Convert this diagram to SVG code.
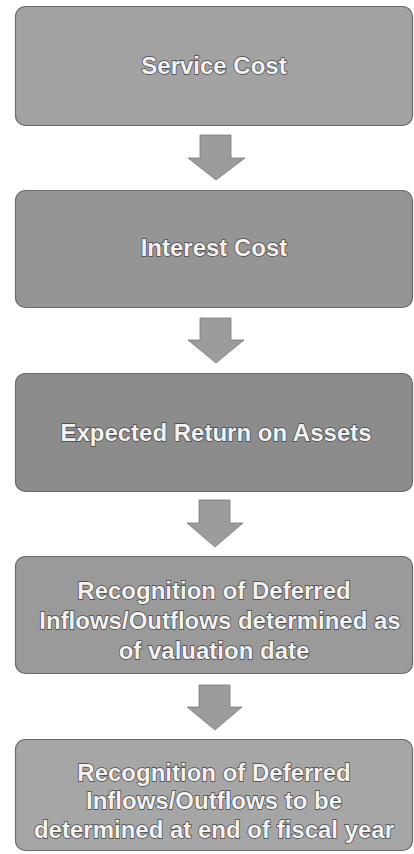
<svg xmlns="http://www.w3.org/2000/svg" width="414" height="854" viewBox="0 0 414 854">
<style>
.box{stroke:#6a6a6a;stroke-width:1.2}
.arrow{fill:#9c9c9c;stroke:#7a7a7a;stroke-width:0.8}
.t{font-family:"Liberation Sans",Arial,sans-serif;font-size:24px;font-weight:bold;fill:#f2f2f2;stroke:#444444;stroke-width:1.4;paint-order:stroke;text-anchor:middle;letter-spacing:0px}
</style>
<rect width="414" height="854" fill="#ffffff"/>
<g id="connectors">
<path class="arrow" d="M200,135 H231 V158 H245 L216,180 L188,158 H200 Z"/>
<path class="arrow" d="M200,318 H231 V340 H244 L216,363 L188,340 H200 Z"/>
<path class="arrow" d="M199,500 H230 V523 H243 L215,547 L187,523 H199 Z"/>
<path class="arrow" d="M199,685 H230 V707 H242 L215,730 L187,707 H199 Z"/>
</g>
<g id="n1">
<rect class="box" x="15.5" y="6.5" width="397" height="119" rx="10" fill="#a2a2a2"/>
<text class="t" x="214" y="74">Service Cost</text>
</g>
<g id="n2">
<rect class="box" x="15.5" y="190.5" width="397" height="117" rx="10" fill="#959595"/>
<text class="t" x="214" y="256">Interest Cost</text>
</g>
<g id="n3">
<rect class="box" x="15.5" y="373.5" width="397" height="118" rx="10" fill="#8c8c8c"/>
<text class="t" x="216" y="441">Expected Return on Assets</text>
</g>
<g id="n4">
<rect class="box" x="15.5" y="556.5" width="397" height="117" rx="10" fill="#9a9a9a"/>
<text class="t" x="214" y="599">Recognition of Deferred</text>
<text class="t" x="220" y="629">Inflows/Outflows determined as</text>
<text class="t" x="214" y="659">of valuation date</text>
</g>
<g id="n5">
<rect class="box" x="15.5" y="739.5" width="397" height="111" rx="10" fill="#a6a6a6"/>
<text class="t" x="214" y="781">Recognition of Deferred</text>
<text class="t" x="214" y="809">Inflows/Outflows to be</text>
<text class="t" x="214" y="838">determined at end of fiscal year</text>
</g>
</svg>
